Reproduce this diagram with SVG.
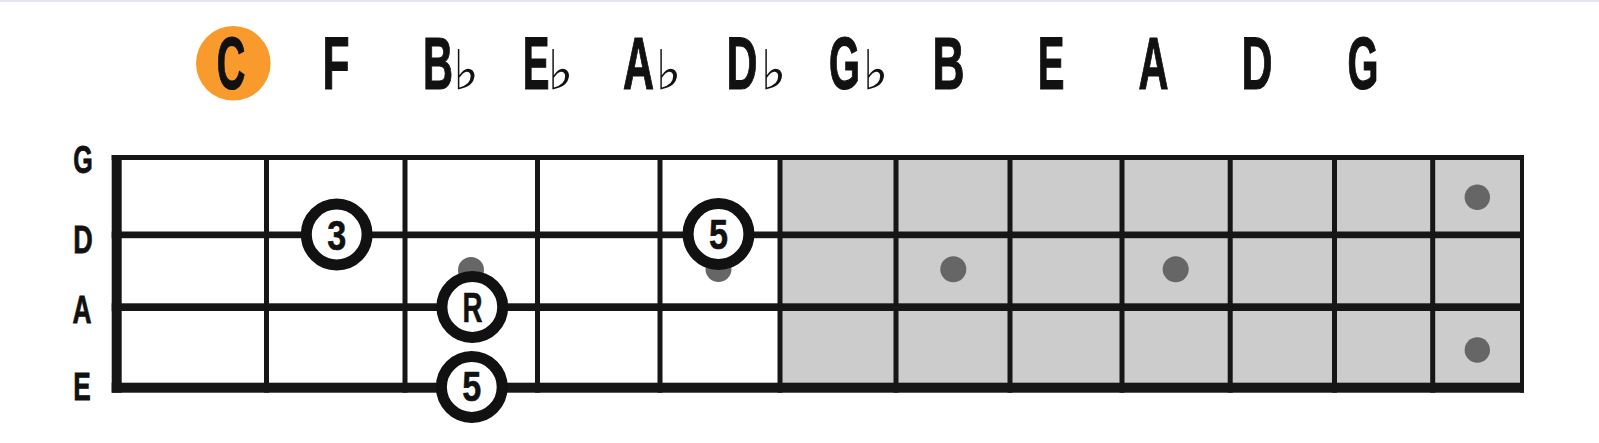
<svg xmlns="http://www.w3.org/2000/svg" width="1599" height="443" viewBox="0 0 1599 443">
<style>
.note{font-family:"Liberation Sans",Arial,sans-serif;font-weight:bold;font-size:74px;fill:#111;stroke:#111;stroke-width:1.2;text-anchor:middle}
.flat{font-family:"DejaVu Sans",sans-serif;font-size:55px;fill:#111}
.str{font-family:"Liberation Sans",Arial,sans-serif;font-weight:bold;font-size:38px;fill:#111;stroke:#111;stroke-width:0.8;text-anchor:middle}
.ring{fill:#fff;stroke:#111;stroke-width:11}
.lab{font-family:"Liberation Sans",Arial,sans-serif;font-weight:bold;font-size:42px;fill:#111;stroke:#111;stroke-width:0.6;text-anchor:middle}
.dot{fill:#666}
.ln{fill:#161616}
</style>
<rect x="0" y="0" width="1599" height="443" fill="#fff"/>
<rect x="0" y="0" width="1599" height="2" fill="#e2e6ec"/>
<g id="key-row">
<g id="note-C"><circle cx="233.3" cy="63.3" r="37.3" fill="#F89B2C"/><text class="note" x="231" y="88.5" textLength="28.6" lengthAdjust="spacingAndGlyphs">C</text></g>
<g id="note-F"><text class="note" x="336" y="88.5" textLength="27" lengthAdjust="spacingAndGlyphs">F</text></g>
<g id="note-Bb"><text class="note" x="438" y="88.5" textLength="30" lengthAdjust="spacingAndGlyphs">B</text><text class="flat" x="453" y="88.5">♭</text></g>
<g id="note-Eb"><text class="note" x="536" y="88.5" textLength="26.7" lengthAdjust="spacingAndGlyphs">E</text><text class="flat" x="547.5" y="88.5">♭</text></g>
<g id="note-Ab"><text class="note" x="638.5" y="88.5" textLength="31" lengthAdjust="spacingAndGlyphs">A</text><text class="flat" x="655.5" y="88.5">♭</text></g>
<g id="note-Db"><text class="note" x="742" y="88.5" textLength="31" lengthAdjust="spacingAndGlyphs">D</text><text class="flat" x="760.5" y="88.5">♭</text></g>
<g id="note-Gb"><text class="note" x="844.5" y="88.5" textLength="31" lengthAdjust="spacingAndGlyphs">G</text><text class="flat" x="862.5" y="88.5">♭</text></g>
<g id="note-B"><text class="note" x="948.5" y="88.5" textLength="32" lengthAdjust="spacingAndGlyphs">B</text></g>
<g id="note-E"><text class="note" x="1051" y="88.5" textLength="26.7" lengthAdjust="spacingAndGlyphs">E</text></g>
<g id="note-A"><text class="note" x="1153.5" y="88.5" textLength="30" lengthAdjust="spacingAndGlyphs">A</text></g>
<g id="note-D"><text class="note" x="1257" y="88.5" textLength="31" lengthAdjust="spacingAndGlyphs">D</text></g>
<g id="note-G"><text class="note" x="1363" y="88.5" textLength="31" lengthAdjust="spacingAndGlyphs">G</text></g>
</g>
<g id="string-labels">
<text class="str" x="83" y="173" textLength="19.5" lengthAdjust="spacingAndGlyphs">G</text>
<text class="str" x="83" y="252.5" textLength="19.5" lengthAdjust="spacingAndGlyphs">D</text>
<text class="str" x="82" y="322.5" textLength="19" lengthAdjust="spacingAndGlyphs">A</text>
<text class="str" x="82" y="400" textLength="17.5" lengthAdjust="spacingAndGlyphs">E</text>
</g>
<g id="fretboard">
<rect x="780" y="157" width="742" height="230" fill="#cccccc"/>
<g id="connectors">
<rect class="ln" x="111.7" y="155" width="1412.3" height="5"/>
<rect class="ln" x="111.7" y="231.5" width="1412.3" height="6.7"/>
<rect class="ln" x="111.7" y="303.3" width="1412.3" height="7.7"/>
<rect class="ln" x="111.7" y="382.7" width="1412.3" height="10"/>
<rect class="ln" x="111.7" y="155" width="10" height="237.7"/>
<rect class="ln" x="264" y="155" width="5" height="237.7"/>
<rect class="ln" x="402.5" y="155" width="5" height="237.7"/>
<rect class="ln" x="535" y="155" width="5" height="237.7"/>
<rect class="ln" x="657.5" y="155" width="5" height="237.7"/>
<rect class="ln" x="777.5" y="155" width="5" height="237.7"/>
<rect class="ln" x="893.5" y="155" width="5" height="237.7"/>
<rect class="ln" x="1007.5" y="155" width="5" height="237.7"/>
<rect class="ln" x="1119.5" y="155" width="5" height="237.7"/>
<rect class="ln" x="1227.7" y="155" width="5" height="237.7"/>
<rect class="ln" x="1332" y="155" width="5" height="237.7"/>
<rect class="ln" x="1430.2" y="155" width="5" height="237.7"/>
<rect class="ln" x="1520" y="155" width="4" height="237.7"/>
</g>
</g>
<g id="inlays">
<circle class="dot" cx="471" cy="270" r="13"/>
<circle class="dot" cx="718.5" cy="269" r="13"/>
<circle class="dot" cx="953.3" cy="269.3" r="13"/>
<circle class="dot" cx="1175.7" cy="269.3" r="13"/>
<circle class="dot" cx="1477.3" cy="197.3" r="12.7"/>
<circle class="dot" cx="1477.3" cy="350" r="12.7"/>
</g>
<g id="marker-3"><circle class="ring" cx="336.7" cy="234.5" r="30.4"/><text class="lab" x="336.7" y="249.5" textLength="19" lengthAdjust="spacingAndGlyphs">3</text></g>
<g id="marker-5-D"><circle class="ring" cx="718.5" cy="234" r="30.4"/><text class="lab" x="718.5" y="249" textLength="19" lengthAdjust="spacingAndGlyphs">5</text></g>
<g id="marker-R"><circle class="ring" cx="472.3" cy="307" r="30.4"/><text class="lab" x="472.4" y="322" textLength="20" lengthAdjust="spacingAndGlyphs">R</text></g>
<g id="marker-5-E"><circle class="ring" cx="471.8" cy="387" r="30.4"/><text class="lab" x="471.8" y="401" textLength="19" lengthAdjust="spacingAndGlyphs">5</text></g>
</svg>
